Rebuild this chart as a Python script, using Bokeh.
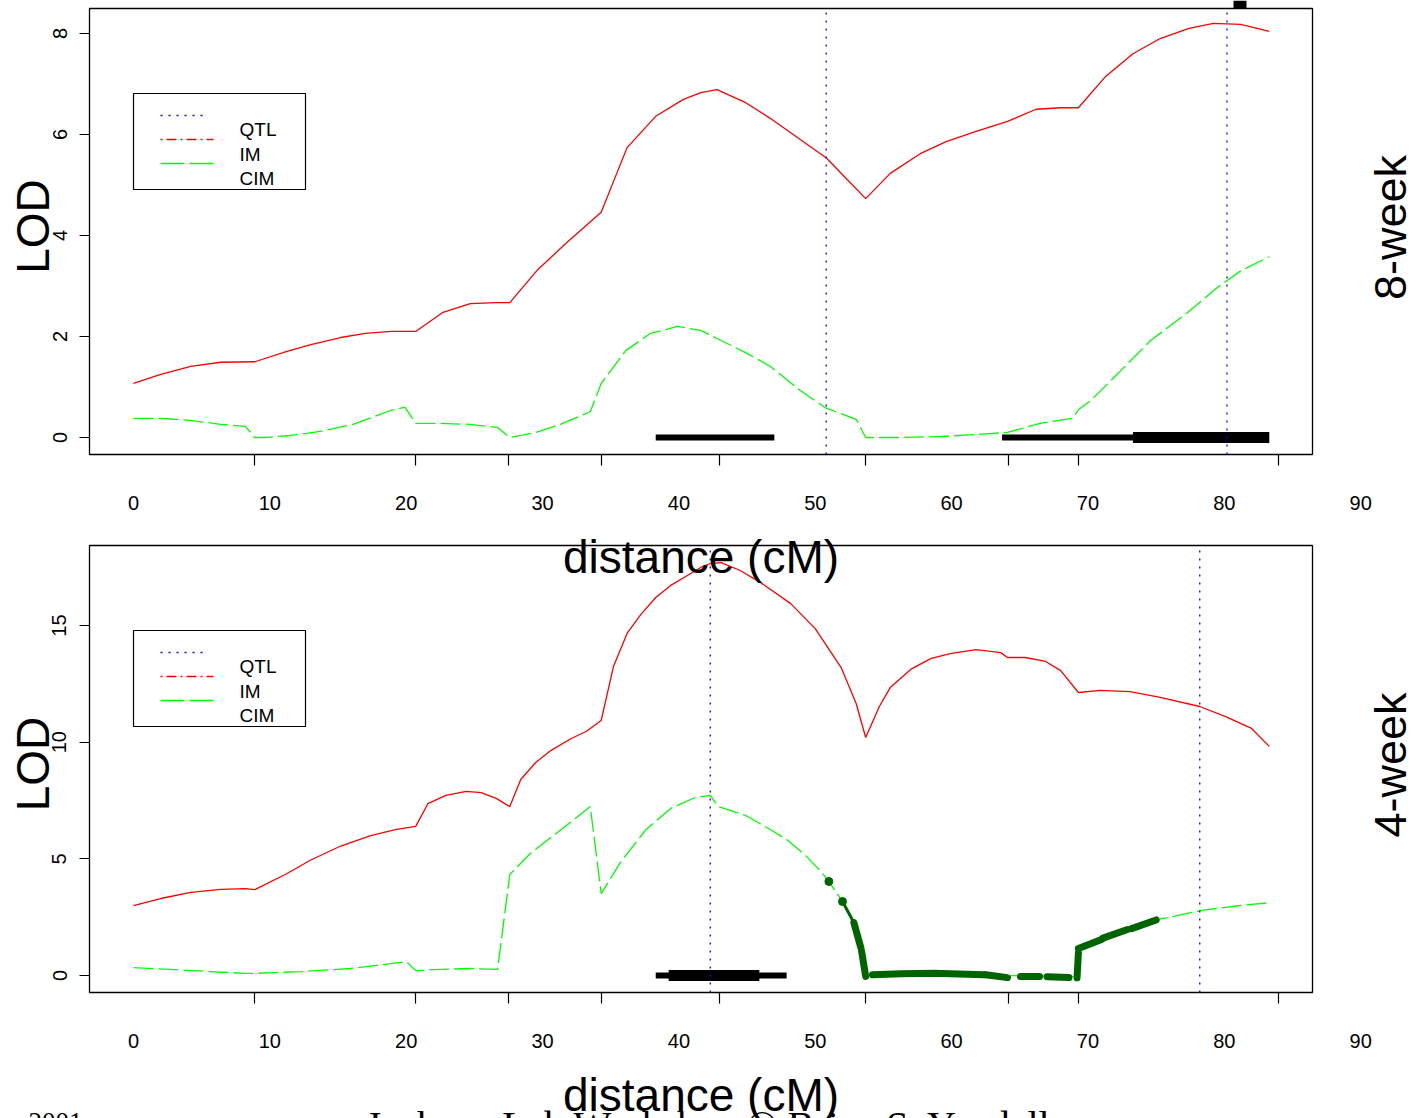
import math
from bokeh.plotting import figure
from bokeh.models import Range1d, FixedTicker, Label, LinearAxis
from bokeh.embed import file_html
from bokeh.resources import INLINE

# ---------------- data ----------------
x_tick_labels = [0, 10, 20, 30, 40, 50, 60, 70, 80, 90]
marker_cm = [8.9, 20.7, 27.5, 34.3, 43.0, 53.7, 64.2, 69.3, 84.0]
legend_labels = ["QTL", "IM", "CIM"]

# ---- 8-week panel ----
y_ticks_8 = [0, 2, 4, 6, 8]
im8_x = [0, 2.0, 4.2, 6.4, 8.9, 11.2, 13.0, 15.2, 17.0, 18.9, 20.7, 22.7, 24.7, 26.6,
         27.6, 29.6, 31.7, 34.3, 36.2, 38.3, 40.3, 41.6, 42.8, 44.9, 46.7, 48.9, 50.8,
         52.2, 53.7, 55.5, 57.7, 59.6, 61.8, 64.1, 66.2, 68.0, 69.3, 71.3, 73.3, 75.3,
         77.4, 79.2, 81.2, 83.3]
im8_y = [1.07, 1.25, 1.41, 1.49, 1.50, 1.70, 1.84, 1.98, 2.06, 2.10, 2.10, 2.48, 2.65, 2.67,
         2.67, 3.31, 3.84, 4.46, 5.74, 6.36, 6.69, 6.83, 6.89, 6.63, 6.32, 5.90, 5.54,
         5.15, 4.73, 5.23, 5.62, 5.86, 6.06, 6.26, 6.50, 6.53, 6.53, 7.15, 7.60, 7.90,
         8.10, 8.20, 8.18, 8.04]
cim8_x = [0, 2.0, 4.2, 6.4, 8.2, 8.9, 9.6, 11.5, 13.7, 16.1, 18.8, 19.9, 20.7, 22.5, 24.7,
          26.7, 27.6, 29.5, 31.3, 33.5, 34.3, 36.1, 37.9, 39.9, 41.6, 42.8, 44.9, 46.7,
          48.9, 50.8, 53.0, 53.7, 56.3, 59.2, 61.8, 64.1, 66.5, 68.9, 69.3, 70.2, 71.7,
          74.6, 77.2, 79.4, 81.2, 83.3]
cim8_y = [0.38, 0.38, 0.34, 0.26, 0.22, 0.0, 0.0, 0.04, 0.12, 0.26, 0.53, 0.60, 0.28, 0.28, 0.26,
          0.20, 0.0, 0.10, 0.26, 0.51, 1.07, 1.72, 2.06, 2.20, 2.12, 1.96, 1.68, 1.41,
          0.93, 0.58, 0.36, 0.0, 0.0, 0.02, 0.06, 0.10, 0.28, 0.38, 0.55, 0.73, 1.13,
          1.92, 2.45, 2.95, 3.30, 3.58]
qtl8 = [50.8, 80.2]
ci8_thin_start = [38.3, 63.7]
ci8_thin_end = [47.0, 73.3]
ci8_thick_start = [73.3]
ci8_thick_end = [83.3]

# ---- 4-week panel ----
y_ticks_4 = [0, 5, 10, 15]
im4_x = [0, 2.0, 4.2, 6.4, 8.2, 8.9, 11.2, 13.0, 15.2, 17.4, 19.2, 20.7, 21.6, 22.9, 24.4,
         25.5, 26.6, 27.6, 28.4, 29.5, 30.6, 32.1, 33.2, 34.3, 35.2, 36.2, 37.2, 38.3,
         39.4, 40.5, 41.6, 42.3, 43.1, 44.5, 46.0, 48.2, 50.0, 51.9, 53.0, 53.7, 54.7,
         55.5, 57.0, 58.5, 59.9, 61.8, 63.6, 64.1, 65.4, 66.9, 68.0, 69.3, 70.9, 73.1,
         75.3, 78.2, 80.1, 82.0, 83.3]
im4_y = [3.0, 3.30, 3.56, 3.69, 3.72, 3.68, 4.35, 4.95, 5.55, 6.00, 6.25, 6.39, 7.37, 7.72, 7.89,
         7.84, 7.59, 7.24, 8.40, 9.13, 9.64, 10.16, 10.46, 10.93, 13.24, 14.66, 15.47, 16.20,
         16.72, 17.10, 17.49, 17.66, 17.70, 17.36, 16.84, 15.94, 14.87, 13.20, 11.66, 10.20, 11.53,
         12.34, 13.12, 13.59, 13.80, 13.97, 13.84, 13.63, 13.63, 13.46, 13.07, 12.13, 12.22, 12.17,
         11.92, 11.53, 11.10, 10.59, 9.82]
cim4_x = [0, 2.7, 5.6, 8.2, 8.9, 12.3, 15.9, 19.6, 20.0, 20.7, 22.5, 24.7, 26.7, 27.6, 29.1,
          31.0, 32.4, 33.5, 34.3, 35.7, 37.6, 39.4, 41.2, 42.3, 42.9, 44.9, 46.7, 48.0, 49.3,
          50.5, 51.0, 52.0, 52.8, 53.35, 53.7, 56.3, 58.7, 62.4, 64.1, 66.5, 69.1, 69.3,
          71.0, 72.9, 75.0, 78.3, 81.2, 83.3]
cim4_y = [0.34, 0.26, 0.17, 0.09, 0.09, 0.17, 0.30, 0.56, 0.60, 0.21, 0.26, 0.30, 0.26, 4.33, 5.23,
          6.09, 6.73, 7.24, 3.51, 4.84, 6.26, 7.16, 7.63, 7.72, 7.24, 6.86, 6.26, 5.79, 5.14,
          4.41, 4.03, 3.17, 2.27, 1.15, 0.02, 0.08, 0.10, 0.05, 0.0, -0.02, -0.05, 1.18,
          1.56, 1.98, 2.38, 2.79, 3.0, 3.12]
# highlighted (dark green) stretches of the 4-week CIM profile
sig4_xs = [[52.83, 53.35], [53.4, 53.7], [54.2, 56.3, 58.7, 62.4], [62.5, 64.1], [65.05, 66.45],
           [67.0, 68.6], [69.2, 69.3], [69.3, 71.0], [71.1, 72.9], [73.2, 75.0]]
sig4_ys = [[2.27, 1.18], [1.04, -0.04], [0.03, 0.08, 0.10, 0.03], [0.03, -0.09], [-0.04, -0.04],
           [-0.05, -0.09], [-0.1, 0.97], [1.16, 1.54], [1.6, 1.97], [2.01, 2.38]]
sig4_thin_x = [52.0, 52.83]
sig4_thin_y = [3.17, 2.27]
sig4_dot_x = [51.0, 52.0]
sig4_dot_y = [4.03, 3.17]
qtl4 = [42.3, 78.2]
ci4_thin_start = [38.3]
ci4_thin_end = [47.9]
ci4_thick_start = [39.25]
ci4_thick_end = [45.9]

# ---------------- styling / layout (page pixels) ----------------
RED, GREEN, BLUE, DKGREEN = "#FF0000", "#00FF00", "#0000FF", "#006400"
SANS, SERIF = "Liberation Sans", "Liberation Serif"
PAGE_W, PAGE_H = 1416, 1118
FRAME_L, FRAME_R = 89, 1312
TOP_FT, TOP_FB, TOP_Y0, TOP_PPU = 8, 454, 437.0, 50.5      # 8-week panel box / zero line / px per LOD
BOT_FT, BOT_FB, BOT_Y0, BOT_PPU = 545, 992, 975.0, 23.33   # 4-week panel
X0_PX, PX_PER_CM = 133.0, 13.635


def xd(px):
    return (px - X0_PX) / PX_PER_CM


def yt(py):          # page px -> 8-week LOD (default y range)
    return (TOP_Y0 - py) / TOP_PPU


def yb(py):          # page px -> 4-week LOD ("bot" y range)
    return (BOT_Y0 - py) / BOT_PPU


p = figure(width=PAGE_W, height=PAGE_H, title=None,
           x_range=Range1d(xd(0), xd(PAGE_W)), y_range=Range1d(yt(PAGE_H), yt(0)),
           x_axis_location=None, y_axis_location=None,
           output_backend="svg", toolbar_location=None, min_border=0)
p.extra_y_ranges = {"bot": Range1d(yb(PAGE_H), yb(0))}
p.outline_line_color = None
p.background_fill_color = "white"
p.border_fill_color = "white"
p.xgrid.visible = False
p.ygrid.visible = False
p.renderers = [r for r in p.renderers if r.__class__.__name__ != "Grid"]
p.center = [r for r in p.center if r.__class__.__name__ != "Grid"]


def add_axes(frame_bot, yticks, rname):
    ya = LinearAxis(fixed_location=xd(FRAME_L), ticker=FixedTicker(ticks=yticks), y_range_name=rname)
    ya.major_label_orientation = "vertical"
    ya.major_label_text_font = SANS
    ya.major_label_text_font_size = "20px"
    ya.major_label_text_color = "black"
    ya.major_label_standoff = 13
    ya.axis_line_color = None
    ya.major_tick_in = 0
    ya.major_tick_out = 10
    ya.major_tick_line_width = 1.2
    ya.major_tick_line_color = "black"
    ya.minor_tick_line_color = None
    p.add_layout(ya, "left")

    xm = LinearAxis(fixed_location=yt(frame_bot), ticker=FixedTicker(ticks=marker_cm))
    xm.major_label_overrides = {t: "" for t in marker_cm}
    xm.axis_line_color = None
    xm.major_tick_in = 0
    xm.major_tick_out = 11
    xm.major_tick_line_width = 1.2
    xm.major_tick_line_color = "black"
    xm.minor_tick_line_color = None
    p.add_layout(xm, "below")

    xl = LinearAxis(fixed_location=yt(frame_bot), ticker=FixedTicker(ticks=x_tick_labels))
    xl.axis_line_color = None
    xl.major_tick_line_color = None
    xl.major_tick_in = 0
    xl.major_tick_out = 0
    xl.minor_tick_line_color = None
    xl.major_label_text_font = SANS
    xl.major_label_text_font_size = "20px"
    xl.major_label_text_color = "black"
    xl.major_label_standoff = 41
    p.add_layout(xl, "below")


def panel_box_and_legend(ft, fb, week_text):
    p.quad(left=[xd(FRAME_L)], right=[xd(FRAME_R)], top=[yt(ft)], bottom=[yt(fb)],
           fill_color=None, line_color="black", line_width=1.3)
    # legend (labels sit a little below their line samples, as in the reference)
    p.quad(left=[xd(133)], right=[xd(305)], top=[yt(ft + 85)], bottom=[yt(ft + 181)],
           fill_color=None, line_color="black", line_width=1.2)
    p.line([xd(160), xd(207)], [yt(ft + 107)] * 2, line_color=BLUE, line_dash="2 6", line_width=1.3)
    p.line([xd(160), xd(213)], [yt(ft + 131)] * 2, line_color=RED, line_dash="2 4 10 4", line_width=1.3)
    p.line([xd(160), xd(213)], [yt(ft + 155)] * 2, line_color=GREEN, line_dash="24 5", line_width=1.3)
    for i, lab in enumerate(legend_labels):
        p.add_layout(Label(x=xd(239), y=yt(ft + 121 + 24.5 * i), text=lab,
                           text_font=SANS, text_font_size="19px", text_color="black",
                           text_align="left", text_baseline="middle"))
    mid = (ft + fb) / 2.0
    p.add_layout(Label(x=xd(32), y=yt(mid - 5), text="LOD", angle=math.pi / 2,
                       text_font=SANS, text_font_size="46px", text_color="black",
                       text_align="center", text_baseline="middle"))
    p.add_layout(Label(x=xd(1390), y=yt(mid - 4), text=week_text, angle=math.pi / 2,
                       text_font=SANS, text_font_size="45px", text_color="black",
                       text_align="center", text_baseline="middle"))
    p.add_layout(Label(x=xd((FRAME_L + FRAME_R) / 2.0), y=yt(fb + 102), text="distance (cM)",
                       text_font=SANS, text_font_size="46px", text_color="black",
                       text_align="center", text_baseline="middle"))


# ---------------- 8-week panel ----------------
panel_box_and_legend(TOP_FT, TOP_FB, "8-week")
add_axes(TOP_FB, y_ticks_8, "default")
p.segment(x0=ci8_thin_start, y0=[0] * len(ci8_thin_start), x1=ci8_thin_end, y1=[0] * len(ci8_thin_end),
          line_color="black", line_width=6, line_cap="butt")
p.segment(x0=ci8_thick_start, y0=[0] * len(ci8_thick_start), x1=ci8_thick_end, y1=[0] * len(ci8_thick_end),
          line_color="black", line_width=11, line_cap="butt")
p.line(cim8_x, cim8_y, line_color=GREEN, line_width=1.3, line_dash="20 5")
p.line(im8_x, im8_y, line_color=RED, line_width=1.3)
p.segment(x0=qtl8, y0=[yt(TOP_FB)] * len(qtl8), x1=qtl8, y1=[yt(TOP_FT)] * len(qtl8),
          line_color=BLUE, line_dash="2 6", line_width=1.3)

# ---------------- 4-week panel ----------------
panel_box_and_legend(BOT_FT, BOT_FB, "4-week")
add_axes(BOT_FB, y_ticks_4, "bot")
p.segment(x0=ci4_thin_start, y0=[0] * len(ci4_thin_start), x1=ci4_thin_end, y1=[0] * len(ci4_thin_end),
          line_color="black", line_width=6, line_cap="butt", y_range_name="bot")
p.segment(x0=ci4_thick_start, y0=[0] * len(ci4_thick_start), x1=ci4_thick_end, y1=[0] * len(ci4_thick_end),
          line_color="black", line_width=11, line_cap="butt", y_range_name="bot")
p.line(cim4_x, cim4_y, line_color=GREEN, line_width=1.3, line_dash="20 5", y_range_name="bot")
p.multi_line(sig4_xs, sig4_ys, line_color=DKGREEN, line_width=7, line_cap="round",
             line_join="round", y_range_name="bot")
p.line(sig4_thin_x, sig4_thin_y, line_color=DKGREEN, line_width=3, line_cap="round", y_range_name="bot")
p.scatter(sig4_dot_x, sig4_dot_y, size=8, fill_color=DKGREEN, line_color=DKGREEN, y_range_name="bot")
p.line(im4_x, im4_y, line_color=RED, line_width=1.3, y_range_name="bot")
p.segment(x0=qtl4, y0=[yb(BOT_FB)] * len(qtl4), x1=qtl4, y1=[yb(BOT_FT)] * len(qtl4),
          line_color=BLUE, line_dash="2 6", line_width=1.3, y_range_name="bot")

# ---------------- page fragments cut by the page edges ----------------
p.quad(left=[xd(1233)], right=[xd(1246)], top=[yt(0)], bottom=[yt(8)],
       fill_color="black", line_color=None)
p.add_layout(Label(x=xd(28), y=yt(1121), text="2001", text_font=SERIF,
                   text_font_size="27px", text_color="black",
                   text_align="left", text_baseline="middle"))
p.add_layout(Label(x=xd(365), y=yt(1125), text="Jackson Lab Workshop \u00a9 Brian S. Yandell",
                   text_font=SERIF, text_font_size="40px", text_color="black",
                   text_align="left", text_baseline="middle"))

open("out.html", "w").write(file_html(p, INLINE))
